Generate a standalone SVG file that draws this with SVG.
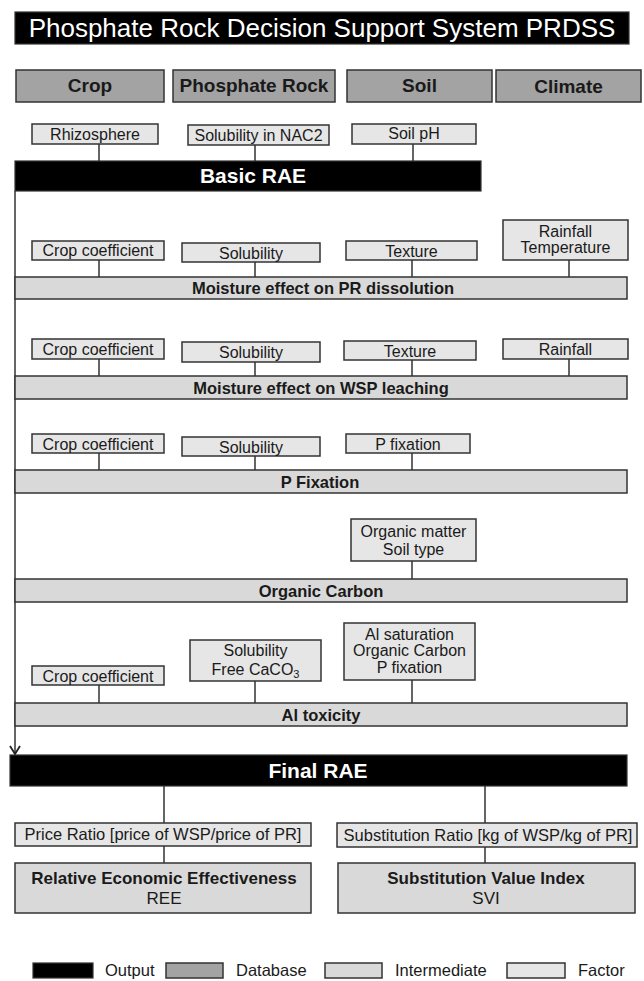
<svg xmlns="http://www.w3.org/2000/svg" width="644" height="981" viewBox="0 0 644 981">
<style>
text{font-family:"Liberation Sans",Arial,sans-serif;text-anchor:middle;fill:#1a1a1a}
.out{fill:#000;stroke:#333;stroke-width:1.2}
.db{fill:#a3a3a3;stroke:#333;stroke-width:1.5}
.im{fill:#d9d9d9;stroke:#333;stroke-width:1.5}
.fa{fill:#e6e6e6;stroke:#333;stroke-width:1.5}
.t-out{fill:#fff;font-weight:bold;font-size:21px}
.t-db{font-weight:bold;font-size:19px}
.t-im{font-weight:bold;font-size:16.5px}
.t-fa{font-size:16px}
.t-big{font-size:17px}
.t-lg{font-size:16.5px;text-anchor:start}
.c{stroke:#333;stroke-width:1.5;fill:none}
</style>
<defs>
<marker id="arr" markerWidth="12" markerHeight="12" refX="10" refY="6" orient="auto" markerUnits="userSpaceOnUse">
<path d="M2,1 L10,6 L2,11" fill="none" stroke="#222" stroke-width="1.8"/>
</marker>
</defs>
<rect width="644" height="981" fill="#fff"/>

<g id="connectors">
<path class="c" d="M99,144V161M255,144V161M413,144V161"/>
<path class="c" d="M15,191V754" marker-end="url(#arr)"/>
<path class="c" d="M99,260V277M255,262V277M412,260V277M569,260V277"/>
<path class="c" d="M99,359V376M255,362V376M412,360V376M569,359V376"/>
<path class="c" d="M99,453V470M255,456V470M412,453V470"/>
<path class="c" d="M412,561V579"/>
<path class="c" d="M99,685V703M255,681V703M412,680V703"/>
<path class="c" d="M164,786V823M164,846V863M485,786V823M485,847V863"/>
</g>

<g id="title"><rect x="15" y="12" width="614" height="32" class="out"/><text x="322" y="37" style="fill:#fff;font-size:26px">Phosphate Rock Decision Support System PRDSS</text></g>

<g id="db-crop"><rect x="16" y="70" width="148" height="32" class="db"/><text x="90" y="92" class="t-db">Crop</text></g>
<g id="db-pr"><rect x="173" y="70" width="162" height="32" class="db"/><text x="254" y="92" class="t-db">Phosphate Rock</text></g>
<g id="db-soil"><rect x="347" y="70" width="145" height="32" class="db"/><text x="419.5" y="92" class="t-db">Soil</text></g>
<g id="db-climate"><rect x="496" y="70" width="145" height="32" class="db"/><text x="568.5" y="93" class="t-db">Climate</text></g>

<g id="f-rhizosphere"><rect x="32" y="124" width="126" height="20" class="fa"/><text x="95" y="139.5" class="t-fa">Rhizosphere</text></g>
<g id="f-solnac2"><rect x="188" y="125" width="141" height="20" class="fa"/><text x="258.5" y="140.5" class="t-fa">Solubility in NAC2</text></g>
<g id="f-soilph"><rect x="352" y="124" width="124" height="20" class="fa"/><text x="414" y="139" class="t-fa">Soil pH</text></g>

<g id="basic-rae"><rect x="15" y="161" width="466" height="30" class="out"/><text x="253" y="183" class="t-out">Basic RAE</text></g>

<g id="f2-crop"><rect x="32" y="241" width="132" height="19" class="fa"/><text x="98" y="256" class="t-fa">Crop coefficient</text></g>
<g id="f2-sol"><rect x="182" y="243" width="138" height="19" class="fa"/><text x="251" y="258.5" class="t-fa">Solubility</text></g>
<g id="f2-tex"><rect x="346" y="241" width="131" height="19" class="fa"/><text x="411.5" y="257" class="t-fa">Texture</text></g>
<g id="f2-rain"><rect x="503" y="220" width="125" height="40" class="fa"/><text x="565.5" y="237" class="t-fa">Rainfall</text><text x="565.5" y="253" class="t-fa">Temperature</text></g>
<g id="im-pr-dissolution"><rect x="15" y="277" width="612" height="22" class="im"/><text x="323" y="294" class="t-im">Moisture effect on PR dissolution</text></g>

<g id="f3-crop"><rect x="32" y="339" width="132" height="20" class="fa"/><text x="98" y="354.5" class="t-fa">Crop coefficient</text></g>
<g id="f3-sol"><rect x="182" y="342" width="138" height="20" class="fa"/><text x="251" y="358" class="t-fa">Solubility</text></g>
<g id="f3-tex"><rect x="344" y="341" width="132" height="19" class="fa"/><text x="410" y="357" class="t-fa">Texture</text></g>
<g id="f3-rain"><rect x="503" y="339" width="125" height="20" class="fa"/><text x="565.5" y="354.5" class="t-fa">Rainfall</text></g>
<g id="im-wsp-leaching"><rect x="15" y="376" width="612" height="23" class="im"/><text x="321" y="393.5" class="t-im">Moisture effect on WSP leaching</text></g>

<g id="f4-crop"><rect x="32" y="434" width="132" height="19" class="fa"/><text x="98" y="449.5" class="t-fa">Crop coefficient</text></g>
<g id="f4-sol"><rect x="182" y="437" width="138" height="19" class="fa"/><text x="251" y="452.5" class="t-fa">Solubility</text></g>
<g id="f4-pfix"><rect x="346" y="434" width="124" height="19" class="fa"/><text x="408" y="449.5" class="t-fa">P fixation</text></g>
<g id="im-pfixation"><rect x="15" y="470" width="612" height="23" class="im"/><text x="320" y="487.5" class="t-im">P Fixation</text></g>

<g id="f5-organic"><rect x="351" y="519" width="125" height="42" class="fa"/><text x="413.5" y="537" class="t-fa">Organic matter</text><text x="413.5" y="555" class="t-fa">Soil type</text></g>
<g id="im-organic-carbon"><rect x="15" y="579" width="612" height="23" class="im"/><text x="321" y="596.5" class="t-im">Organic Carbon</text></g>

<g id="f6-crop"><rect x="32" y="666" width="132" height="19" class="fa"/><text x="98" y="681.5" class="t-fa">Crop coefficient</text></g>
<g id="f6-sol-caco3"><rect x="190" y="640" width="131" height="41" class="fa"/><text x="255.5" y="656" class="t-fa">Solubility</text><text x="255.5" y="675" class="t-fa">Free CaCO<tspan font-size="11" dy="3">3</tspan></text></g>
<g id="f6-al"><rect x="344" y="623" width="131" height="57" class="fa"/><text x="409.5" y="640" class="t-fa">Al saturation</text><text x="409.5" y="656" class="t-fa">Organic Carbon</text><text x="409.5" y="673" class="t-fa">P fixation</text></g>
<g id="im-al-toxicity"><rect x="15" y="703" width="612" height="23" class="im"/><text x="321" y="720.5" class="t-im">Al toxicity</text></g>

<g id="final-rae"><rect x="10" y="755" width="617" height="31" class="out"/><text x="318" y="778" class="t-out">Final RAE</text></g>

<g id="f-price-ratio"><rect x="15" y="823" width="296" height="23" class="fa"/><text x="163" y="840" style="font-size:16.5px">Price Ratio [price of WSP/price of PR]</text></g>
<g id="f-subst-ratio"><rect x="337" y="823" width="300" height="24" class="fa"/><text x="488" y="840.5" style="font-size:16.5px">Substitution Ratio [kg of WSP/kg of PR]</text></g>

<g id="ree"><rect x="15" y="863" width="296" height="50" class="im"/><text x="164" y="884" class="t-big" font-weight="bold">Relative Economic Effectiveness</text><text x="164" y="904" class="t-big">REE</text></g>
<g id="svi"><rect x="338" y="863" width="297" height="50" class="im"/><text x="486" y="884" class="t-big" font-weight="bold">Substitution Value Index</text><text x="486" y="904" class="t-big">SVI</text></g>

<g id="legend">
<rect x="33" y="963" width="60" height="15" class="out"/><text x="105" y="976" class="t-lg">Output</text>
<rect x="166" y="963" width="57" height="15" class="db"/><text x="236" y="976" class="t-lg">Database</text>
<rect x="325" y="963" width="57" height="15" class="im"/><text x="395" y="976" class="t-lg">Intermediate</text>
<rect x="507" y="963" width="58" height="15" class="fa"/><text x="578" y="976" class="t-lg">Factor</text>
</g>
</svg>
